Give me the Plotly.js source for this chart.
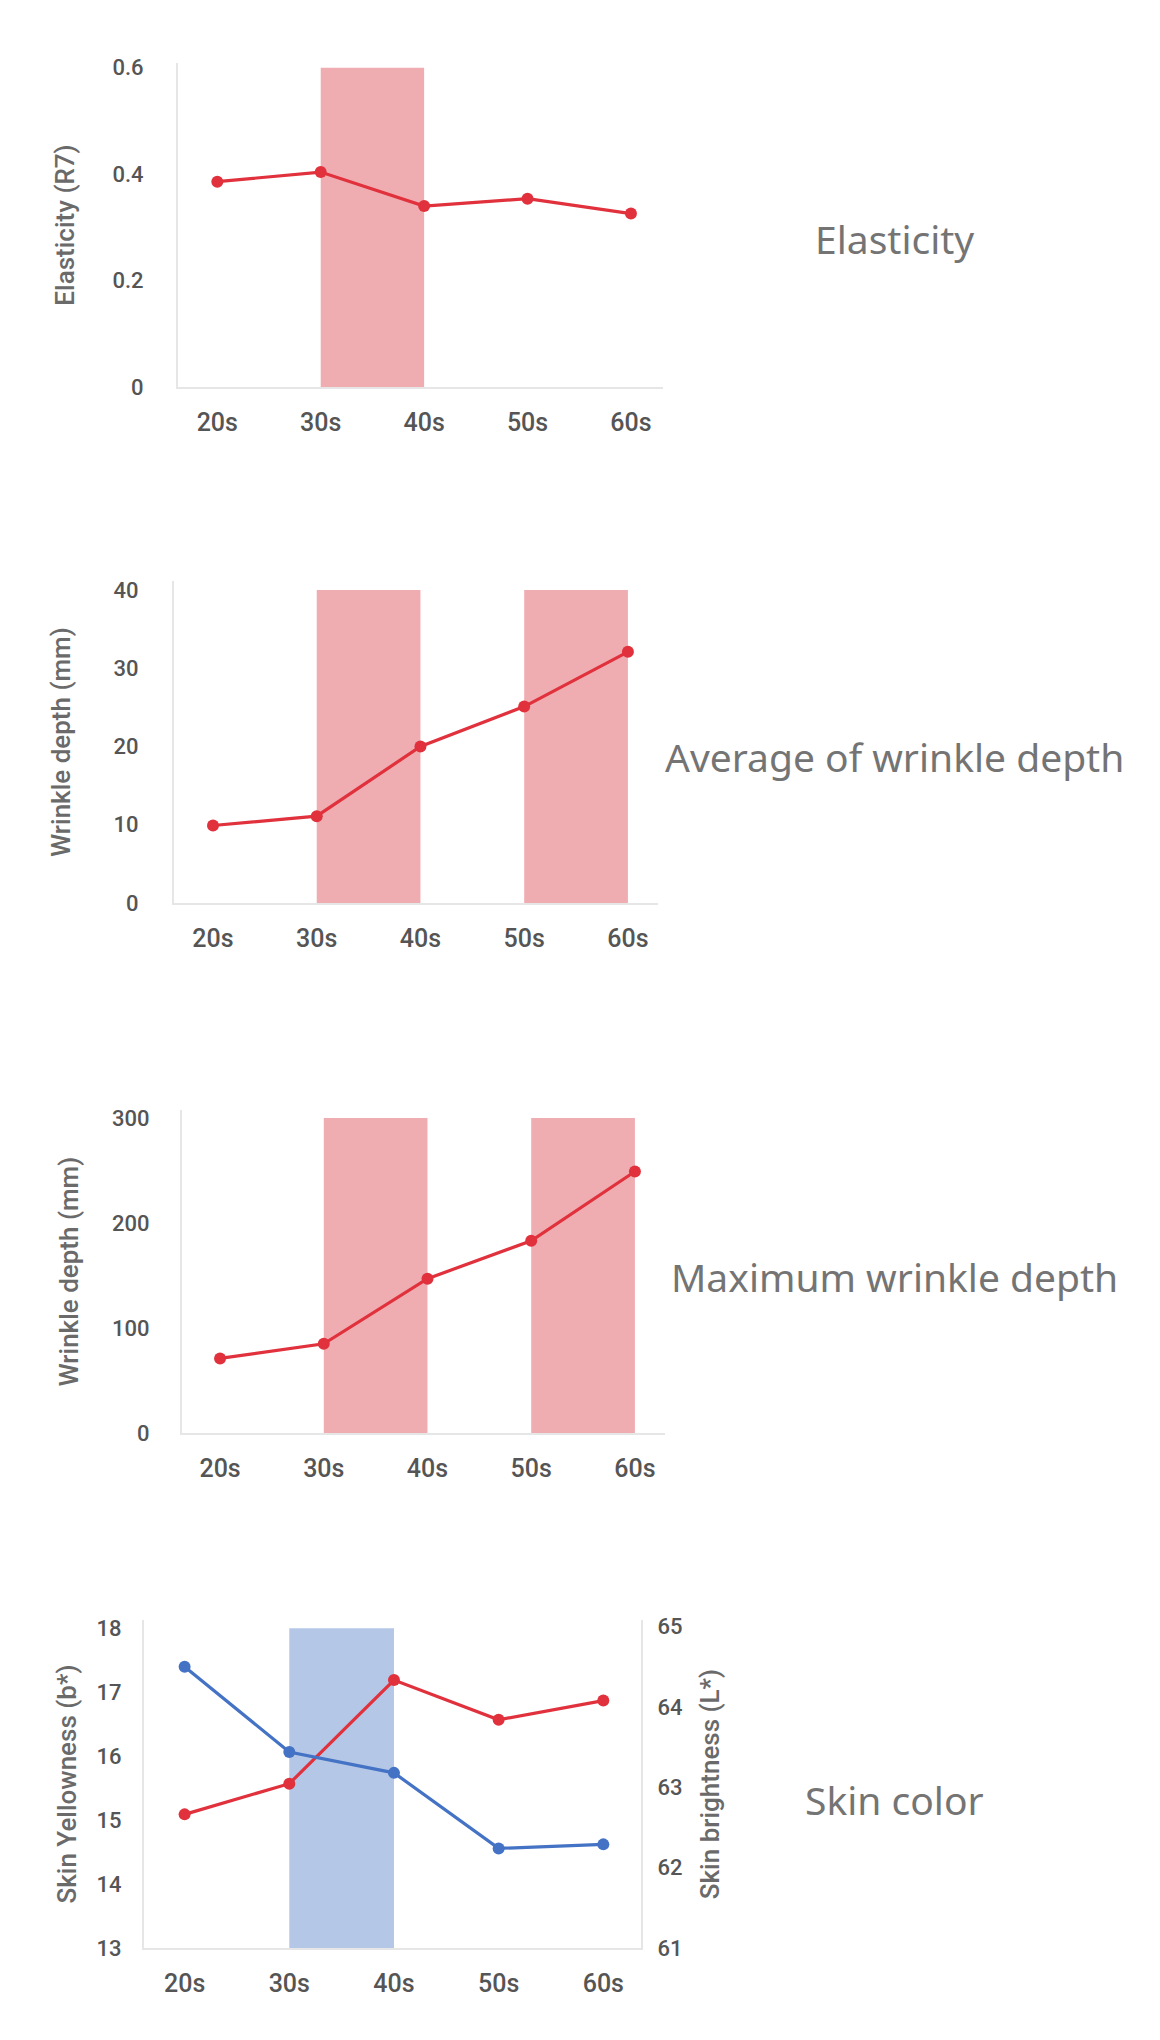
<!DOCTYPE html>
<html>
<head>
<meta charset="utf-8">
<script src="https://cdn.plot.ly/plotly-3.0.1.min.js"></script>
<style>
  html, body { margin: 0; padding: 0; background: #fff; }
  #chart { width: 1160px; height: 2040px; }
</style>
</head>
<body>
<div id="chart"></div>
<script>
// age groups on every x axis
var ageGroups = ['20s', '30s', '40s', '50s', '60s'];

// values
var elasticity = [0.386, 0.404, 0.340, 0.354, 0.326];
var avgWrinkleDepth = [9.9, 11.1, 20.0, 25.1, 32.1];
var maxWrinkleDepth = [71, 85, 147, 183, 249];
var skinYellowness = [15.09, 15.57, 17.19, 16.57, 16.87];
var skinBrightness = [64.50, 63.44, 63.18, 62.24, 62.29];

// highlighted age spans (from one age group to the next)
var elasticityBands = [['30s', '40s']];
var avgWrinkleBands = [['30s', '40s'], ['50s', '60s']];
var maxWrinkleBands = [['30s', '40s'], ['50s', '60s']];
var skinColorBands = [['30s', '40s']];

// tick values
var elasticityTicks = [0, 0.2, 0.4, 0.6];
var avgWrinkleTicks = [0, 10, 20, 30, 40];
var maxWrinkleTicks = [0, 100, 200, 300];
var yellownessTicks = [13, 14, 15, 16, 17, 18];
var brightnessTicks = [61, 62, 63, 64, 65];

// panel titles on the right
var panelTitles = ['Elasticity', 'Average of wrinkle depth', 'Maximum wrinkle depth', 'Skin color'];

var W = 1160, H = 2040;
var RED = '#e0313c', BLUE = '#4472c4';
var PINK = '#efadb2', LIGHTBLUE = '#b4c7e7';
var AXIS_LINE = '#e6e6e6';
var SANS = 'Roboto, Liberation Sans, Arial, sans-serif';
var TICK_FONT_X = {family: SANS, size: 25, weight: 500, color: '#555555'};
var TICK_FONT_Y = {family: SANS, size: 22, weight: 500, color: '#555555'};
var TITLE_FONT = {family: SANS, size: 26, weight: 500, color: '#6a6a6a'};

function xdom(l, r){ return [l / W, r / W]; }
function ydom(t, b){ return [1 - b / H, 1 - t / H]; }

function xAxis(l, r, range, anchor){
	return {
		domain: xdom(l, r), anchor: anchor, type: 'category', range: range,
		showgrid: false, zeroline: false, showline: true, linecolor: AXIS_LINE, linewidth: 2,
		ticks: '', tickfont: TICK_FONT_X, ticklabelstandoff: 12, fixedrange: true
	};
}

function yAxis(t, b, range, ticks, title, anchor, labelGap, standoff){
	return {
		domain: ydom(t, b), anchor: anchor, range: range,
		tickmode: 'array', tickvals: ticks, ticktext: ticks.map(String),
		showgrid: false, zeroline: false, showline: true, linecolor: AXIS_LINE, linewidth: 2,
		ticks: '', tickfont: TICK_FONT_Y, ticklabelstandoff: labelGap, fixedrange: true,
		title: {text: title, font: TITLE_FONT, standoff: standoff}
	};
}

function lineTrace(y, color, xa, ya){
	return {
		x: ageGroups, y: y, type: 'scatter', mode: 'lines+markers',
		line: {color: color, width: 3.2}, marker: {color: color, size: 12},
		xaxis: xa, yaxis: ya, hoverinfo: 'x+y'
	};
}

// one rectangle per highlighted span, bottom tick to top tick
function bandShapes(bands, ticks, color, xref, yref){
	return bands.map(function(b){
		return {
			type: 'rect', layer: 'below', xref: xref, yref: yref,
			x0: ageGroups.indexOf(b[0]), x1: ageGroups.indexOf(b[1]),
			y0: ticks[0], y1: ticks[ticks.length - 1],
			fillcolor: color, line: {width: 0}
		};
	});
}

var data = [
	lineTrace(elasticity, RED, 'x', 'y'),
	lineTrace(avgWrinkleDepth, RED, 'x2', 'y2'),
	lineTrace(maxWrinkleDepth, RED, 'x3', 'y3'),
	lineTrace(skinYellowness, RED, 'x4', 'y4'),
	lineTrace(skinBrightness, BLUE, 'x4', 'y5')
];

var shapes = []
	.concat(bandShapes(elasticityBands, elasticityTicks, PINK, 'x', 'y'))
	.concat(bandShapes(avgWrinkleBands, avgWrinkleTicks, PINK, 'x2', 'y2'))
	.concat(bandShapes(maxWrinkleBands, maxWrinkleTicks, PINK, 'x3', 'y3'))
	.concat(bandShapes(skinColorBands, yellownessTicks, LIGHTBLUE, 'x4', 'y4'));

var titleY = [238, 756, 1276, 1799];
var annotations = panelTitles.map(function(t, i){
	return {
		text: t, xref: 'paper', yref: 'paper', x: 894 / W, y: 1 - titleY[i] / H,
		xanchor: 'center', yanchor: 'middle', showarrow: false,
		font: {family: 'Noto Sans, Open Sans, sans-serif', size: 39, color: '#747474'}
	};
});

var layout = {
	width: W, height: H,
	margin: {l: 0, r: 0, t: 0, b: 0},
	paper_bgcolor: '#ffffff', plot_bgcolor: 'rgba(0,0,0,0)',
	showlegend: false,
	xaxis: xAxis(178, 663, [-0.38, 4.31], 'y'),
	yaxis: yAxis(63, 387, [0, 0.609], elasticityTicks, 'Elasticity (R7)', 'x', 28, 30),
	xaxis2: xAxis(174, 658, [-0.376, 4.29], 'y2'),
	yaxis2: yAxis(581, 903, [0, 41.15], avgWrinkleTicks, 'Wrinkle depth (mm)', 'x2', 29, 35),
	xaxis3: xAxis(182, 665, [-0.367, 4.29], 'y3'),
	yaxis3: yAxis(1110, 1433, [0, 307.6], maxWrinkleTicks, 'Wrinkle depth (mm)', 'x3', 26, 26),
	xaxis4: xAxis(144, 641, [-0.388, 4.36], 'y4'),
	yaxis4: yAxis(1620, 1948, [13, 18.13], yellownessTicks, 'Skin Yellowness (b*)', 'x4', 16, 12),
	shapes: shapes,
	annotations: annotations
};

var right = yAxis(1620, 1948, [61, 65.083], brightnessTicks, 'Skin brightness (L*)', 'x4', 10, 19);
right.overlaying = 'y4';
right.side = 'right';
layout.yaxis5 = right;

Plotly.newPlot('chart', data, layout, {displayModeBar: false, staticPlot: true});
</script>
</body>
</html>
